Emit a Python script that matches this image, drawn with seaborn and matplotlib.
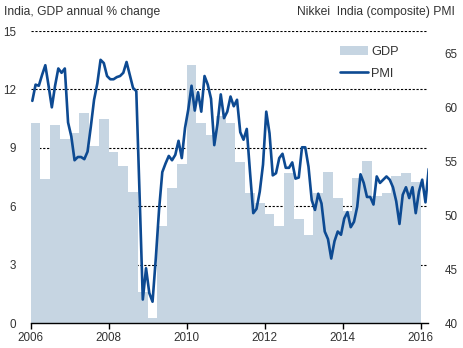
import numpy as np
import pandas as pd
import matplotlib
matplotlib.use("Agg")
import matplotlib.pyplot as plt
from matplotlib.patches import Patch
from matplotlib.lines import Line2D
import seaborn as sns

# ---- data ----
gdp_quarter_start = 2006
gdp = [10.3, 7.4, 10.2, 9.45,
       9.75, 10.8, 9.1, 10.5,
       8.8, 8.05, 6.75, 1.6,
       0.25, 5.0, 6.95, 8.15,
       13.25, 10.3, 9.65, 10.65,
       10.3, 8.3, 6.7, 6.15,
       5.6, 5.0, 7.7, 5.35,
       4.55, 6.7, 7.75, 6.45,
       5.75, 7.45, 8.35, 6.55,
       6.7, 7.55, 7.7, 7.25]

pmi = [60.6, 62.1, 62.0, 63.0, 63.9, 62.0, 60.0, 62.0, 63.6, 63.2, 63.6, 58.6,
       57.3, 55.1, 55.4, 55.4, 55.2, 55.9, 58.2, 60.7, 62.2, 64.4, 64.1, 62.9,
       62.6, 62.6, 62.8, 62.9, 63.2, 64.2, 63.0, 61.8, 61.5, 52.0, 42.2, 45.1,
       42.8, 42.0, 46.0, 50.5, 54.0, 54.8, 55.5, 55.1, 55.6, 56.9, 55.3, 58.1,
       59.8, 62.0, 59.7, 61.4, 59.6, 62.9, 62.1, 60.8, 56.5, 58.5, 61.2, 59.0,
       59.6, 61.0, 60.1, 60.7, 57.7, 57.0, 58.0, 54.0, 50.2, 50.6, 52.2, 54.7,
       59.6, 57.6, 53.7, 53.9, 55.3, 55.7, 54.4, 54.4, 54.9, 53.4, 53.5, 56.3,
       56.3, 54.5, 51.4, 50.5, 52.0, 51.1, 48.5, 47.8, 46.0, 47.6, 48.5, 48.2,
       49.7, 50.3, 48.9, 49.4, 50.8, 53.8, 53.0, 51.7, 51.7, 51.0, 53.6, 53.0,
       53.3, 53.6, 53.3, 52.6, 51.3, 49.2, 51.9, 52.6, 51.6, 52.6, 50.2, 52.2,
       53.3, 51.2, 54.3]

left_ticks = [0, 3, 6, 9, 12, 15]
right_ticks = [40, 45, 50, 55, 60, 65]
year_ticks = [2006, 2008, 2010, 2012, 2014, 2016]
left_title = "India, GDP annual % change"
right_title = "Nikkei  India (composite) PMI"

gdp_df = pd.DataFrame({
    "x": [gdp_quarter_start + (i + 0.5) / 4 for i in range(len(gdp))],
    "GDP": gdp,
})
pmi_df = pd.DataFrame({
    "x": [2006 + (i + 0.5) / 12 for i in range(len(pmi))],
    "PMI": pmi,
})

# ---- style ----
sns.set_style("white")
plt.rcParams["font.family"] = ["Liberation Sans", "DejaVu Sans"]
plt.rcParams["font.size"] = 8.4
text_col = "#333333"
bar_col = "#c6d5e2"
line_col = "#0d4a92"

fig = plt.figure(figsize=(4.63, 3.48), dpi=100)
ax1 = fig.add_axes([30.7 / 463, 1 - 323.3 / 348, (428 - 30.7) / 463, (323.3 - 31) / 348])

sns.barplot(data=gdp_df, x="x", y="GDP", native_scale=True, width=1.0,
            color=bar_col, saturation=1, linewidth=0, errorbar=None, ax=ax1, zorder=2)
ax1.set_xlim(2006, 2016.19)
ax1.set_ylim(0, 15)
ax1.set_yticks(left_ticks)
ax1.set_xticks(year_ticks)
ax1.set_xticklabels([str(y) for y in year_ticks])
ax1.set_xlabel("")
ax1.set_ylabel("")
ax1.set_axisbelow(True)
for v in left_ticks[1:]:
    ax1.axhline(v, color="black", linewidth=0.8, linestyle=(0, (2, 1.5)), zorder=0)

ax2 = ax1.twinx()
sns.lineplot(data=pmi_df, x="x", y="PMI", color=line_col, linewidth=1.9, ax=ax2)
ax2.set_ylim(40, 67.07)
ax2.set_yticks(right_ticks)
ax2.set_ylabel("")
ax2.set_xlabel("")
ax2.set_xlim(2006, 2016.19)

for ax in (ax1, ax2):
    for s in ("left", "right", "top"):
        ax.spines[s].set_visible(False)
ax2.spines["bottom"].set_visible(False)
ax1.spines["bottom"].set_color("black")
ax1.spines["bottom"].set_linewidth(1.0)

ax1.tick_params(axis="x", which="both", bottom=True, length=4, width=1, color="black",
                direction="out", pad=2, labelcolor=text_col, labelsize=8.4)
ax1.tick_params(axis="y", left=False, pad=7.0, labelcolor=text_col, labelsize=8.4)
ax2.tick_params(axis="y", right=False, pad=8.5, labelcolor=text_col, labelsize=8.4)

fig.text(4 / 463, 1 - 12 / 348, left_title, ha="left", va="center", color=text_col, fontsize=8.7)
fig.text(455 / 463, 1 - 12 / 348, right_title, ha="right", va="center", color=text_col, fontsize=8.7)

handles = [Patch(facecolor=bar_col, edgecolor="none"),
           Line2D([0], [0], color=line_col, linewidth=1.9)]
ax2.legend(handles, ["GDP", "PMI"], loc="upper left",
           bbox_to_anchor=((340 - 30.7) / (428 - 30.7), (323.3 - 46) / 292.3),
           frameon=False, borderpad=0, borderaxespad=0, handlelength=2.2,
           handletextpad=0.25, labelspacing=0.75, fontsize=9.2,
           labelcolor=text_col)

fig.savefig("out.png", dpi=100)
